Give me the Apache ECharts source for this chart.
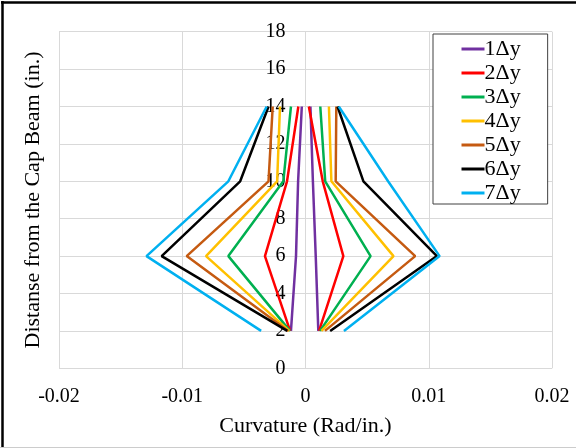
<!DOCTYPE html>
<html>
<head>
<meta charset="utf-8">
<script src="https://cdn.jsdelivr.net/npm/echarts@6/dist/echarts.min.js"></script>
<style>
html,body{margin:0;padding:0;background:#fff;}
#chart{width:576px;height:448px;}
</style>
</head>
<body>
<div id="chart"></div>
<script>
var heights = [2, 6, 10, 14];
var seriesNames = ['1Δy', '2Δy', '3Δy', '4Δy', '5Δy', '6Δy', '7Δy'];
var colors = ['#7030A0', '#FF0000', '#00B050', '#FFC000', '#C55A11', '#000000', '#00B0F0'];
// left branch curvature (negative side) at heights 2, 6, 10, 14
var left1 = [-0.00118, -0.00077, -0.0006, -0.0003];
var left2 = [-0.00125, -0.00329, -0.0015, -0.00058];
var left3 = [-0.00126, -0.00626, -0.0018, -0.00118];
var left4 = [-0.00132, -0.00807, -0.0023, -0.00207];
var left5 = [-0.0014, -0.00964, -0.0030, -0.00266];
var left6 = [-0.00148, -0.01167, -0.0053, -0.0030];
var left7 = [-0.0036, -0.0129, -0.00626, -0.00315];
// right branch curvature (positive side) at heights 2, 6, 10, 14
var right1 = [0.00104, 0.00083, 0.0006, 0.0004];
var right2 = [0.0011, 0.00307, 0.0014, 0.00027];
var right3 = [0.00118, 0.00528, 0.0016, 0.0012];
var right4 = [0.0013, 0.00714, 0.0021, 0.0019];
var right5 = [0.00158, 0.0089, 0.00245, 0.0025];
var right6 = [0.002, 0.01066, 0.0047, 0.0026];
var right7 = [0.00312, 0.01088, 0.0067, 0.0027];
var xTickLabels = ['-0.02', '-0.01', '0', '0.01', '0.02'];
var xTickValues = [-0.02, -0.01, 0, 0.01, 0.02];

var lefts = [left1, left2, left3, left4, left5, left6, left7];
var rights = [right1, right2, right3, right4, right5, right6, right7];

function pairs(xs) {
  return xs.map(function (x, i) { return [x, heights[i]]; });
}

var series = [];
seriesNames.forEach(function (name, i) {
  [lefts[i], rights[i]].forEach(function (arr) {
    series.push({
      name: name,
      type: 'line',
      data: pairs(arr),
      symbol: 'none',
      color: colors[i],
      lineStyle: { width: 2.5, color: colors[i] },
      z: 2 + i,
      animation: false
    });
  });
});

var gridLeft = 59, gridRight = 24;
var plotWidth = 576 - gridLeft - gridRight;
var font = '"Liberation Serif", "Times New Roman", serif';
var chart = echarts.init(document.getElementById('chart'));
chart.setOption({
  animation: false,
  textStyle: { fontFamily: font },
  grid: { left: gridLeft, right: gridRight, top: 31.7, bottom: 79.7, containLabel: false, outerBoundsMode: 'none' },
  xAxis: {
    type: 'value',
    min: -0.02, max: 0.02, interval: 0.01,
    name: 'Curvature (Rad/in.)',
    nameLocation: 'middle',
    nameGap: 47,
    nameTextStyle: { fontFamily: font, fontSize: 22, color: '#000' },
    axisLine: { show: false, onZero: false },
    axisTick: { show: false },
    axisLabel: {
      fontFamily: font, fontSize: 20, color: '#000', margin: 18,
      formatter: function (v) {
        for (var k = 0; k < xTickValues.length; k++) {
          if (Math.abs(v - xTickValues[k]) < 1e-9) return xTickLabels[k];
        }
        return '';
      }
    },
    splitLine: { show: true, lineStyle: { color: '#d9d9d9', width: 1 } }
  },
  yAxis: {
    type: 'value',
    min: 0, max: 18, interval: 2,
    position: 'left',
    offset: -plotWidth / 2,
    name: 'Distanse from the Cap Beam (in.)',
    nameLocation: 'middle',
    nameGap: 261,
    nameTextStyle: { fontFamily: font, fontSize: 22, color: '#000' },
    axisLine: { show: false, onZero: false },
    axisTick: { show: false },
    axisLabel: { fontFamily: font, fontSize: 20, color: '#000', margin: 20 },
    splitLine: { show: true, lineStyle: { color: '#d9d9d9', width: 1 } }
  },
  legend: {
    orient: 'vertical',
    left: 433, top: 34,
    padding: [4, 27, 0, 27],
    itemGap: 2,
    itemWidth: 23,
    itemHeight: 14,
    borderColor: '#404040',
    borderWidth: 1,
    backgroundColor: '#fff',
    data: seriesNames,
    textStyle: { fontFamily: font, fontSize: 22, color: '#000', padding: [0, 0, 0, -5] },
    itemStyle: { opacity: 0 },
    lineStyle: { width: 3 }
  },
  graphic: [
    { type: 'line', shape: { x1: 1, y1: 2.5, x2: 576, y2: 2.5 }, style: { stroke: '#000', lineWidth: 2.5 }, silent: true },
    { type: 'line', shape: { x1: 2.5, y1: 1, x2: 2.5, y2: 448 }, style: { stroke: '#000', lineWidth: 2.5 }, silent: true },
    { type: 'line', shape: { x1: 0, y1: 447.5, x2: 576, y2: 447.5 }, style: { stroke: '#cccccc', lineWidth: 1 }, silent: true }
  ],
  series: series
});
</script>
</body>
</html>
